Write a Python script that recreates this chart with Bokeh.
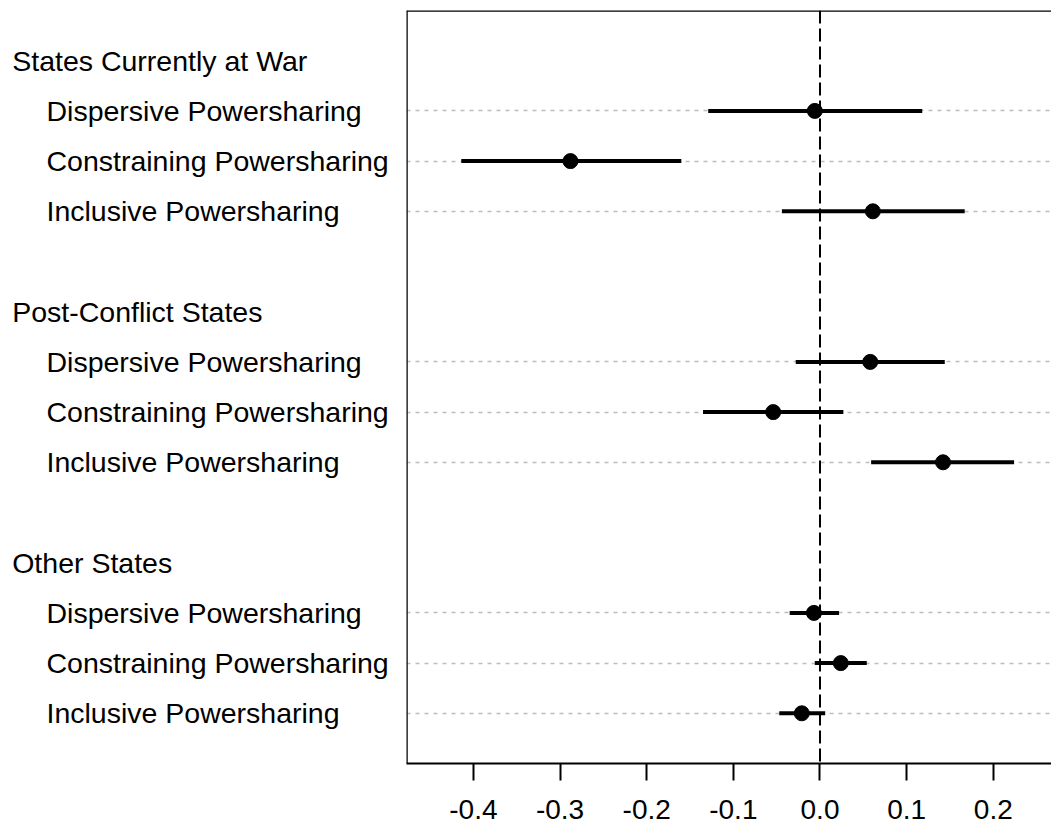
from bokeh.plotting import figure
from bokeh.layouts import row
from bokeh.models import Range1d, FixedTicker, Span, ColumnDataSource, Grid
from bokeh.core.properties import value
from bokeh.embed import file_html
from bokeh.resources import INLINE

# ---- data ----
groups = ["States Currently at War", "Post-Conflict States", "Other States"]
types = ["Dispersive Powersharing", "Constraining Powersharing", "Inclusive Powersharing"]
estimate = [-0.006, -0.288, 0.061, 0.058, -0.054, 0.142, -0.007, 0.024, -0.021]
lower = [-0.129, -0.414, -0.044, -0.028, -0.135, 0.059, -0.035, -0.006, -0.047]
upper = [0.118, -0.160, 0.167, 0.144, 0.027, 0.224, 0.022, 0.054, 0.006]
tick_values = [-0.4, -0.3, -0.2, -0.1, 0.0, 0.1, 0.2]
tick_labels = ["-0.4", "-0.3", "-0.2", "-0.1", "0.0", "0.1", "0.2"]

# ---- layout ----
FONT = "Liberation Sans"
FS = "28.5px"
PX_PER_UNIT = 866.5
TOTAL_W, H = 1051, 832
LAB_W = 404
MAIN_W = TOTAL_W - LAB_W
TOP, BOTTOM = 10, 69
X_START = -0.4772
X_END = X_START + (MAIN_W - 2) / PX_PER_UNIT
Y_START, Y_END = -14, 1
yr = Range1d(Y_START, Y_END)

# row positions
header_y = [-5 * g for g in range(len(groups))]
item_y = []
item_label = []
for g in range(len(groups)):
    for k, t in enumerate(types):
        item_y.append(-5 * g - (k + 1))
        item_label.append(t)

# ---- label panel ----
lab = figure(width=LAB_W, height=H, x_range=Range1d(0, LAB_W), y_range=yr,
             output_backend="svg", toolbar_location=None,
             x_axis_location=None, y_axis_location=None,
             min_border_left=0, min_border_right=0,
             min_border_top=TOP, min_border_bottom=BOTTOM,
             outline_line_color=None,
             background_fill_color="white", border_fill_color="white")
lab.xgrid.visible = False
lab.ygrid.visible = False
lab_src = ColumnDataSource(dict(
    x=[11.7] * len(groups) + [46.0] * len(item_y),
    y=header_y + item_y,
    text=groups + item_label,
))
lab.text(x="x", y="y", text="text", source=lab_src,
         text_font=value(FONT), text_font_size=FS, text_color="black",
         text_align="left", text_baseline="middle")

# ---- main panel ----
p = figure(width=MAIN_W, height=H,
           x_range=Range1d(X_START, X_END), y_range=yr,
           output_backend="svg", toolbar_location=None,
           y_axis_location=None,
           min_border_left=2, min_border_right=0,
           min_border_top=TOP, min_border_bottom=BOTTOM,
           outline_line_color=None,
           background_fill_color="white", border_fill_color="white")

p.xgrid.visible = False
p.ygrid.visible = False
g = Grid(dimension=1, ticker=FixedTicker(ticks=item_y),
         grid_line_color="#bdbdbd", grid_line_dash="4 5", grid_line_width=1.5)
p.add_layout(g, "center")

ax = p.xaxis[0]
ax.ticker = FixedTicker(ticks=tick_values)
ax.major_label_overrides = {v: l for v, l in zip(tick_values, tick_labels)}
ax.axis_line_width = 2
ax.axis_line_color = "black"
ax.major_tick_line_width = 2
ax.major_tick_line_color = "black"
ax.major_tick_out = 17
ax.major_tick_in = 0
ax.minor_tick_line_color = None
ax.major_label_text_font = FONT
ax.major_label_text_font_size = "28px"
ax.major_label_text_color = "black"
ax.major_label_standoff = 19

# frame borders (left, top)
p.add_layout(Span(location=X_START, dimension="height", line_color="black", line_width=2.5))
p.add_layout(Span(location=Y_END, dimension="width", line_color="black", line_width=2.5))

src = ColumnDataSource(dict(y=item_y, est=estimate, lo=lower, hi=upper))
p.segment(x0="lo", x1="hi", y0="y", y1="y", source=src, line_color="black", line_width=4)
p.scatter(x="est", y="y", source=src, size=15, color="black")

p.add_layout(Span(location=0, dimension="height", line_color="black",
                  line_width=2, line_dash="13 5"))

layout = row(lab, p)
open("out.html", "w").write(file_html(layout, INLINE))
